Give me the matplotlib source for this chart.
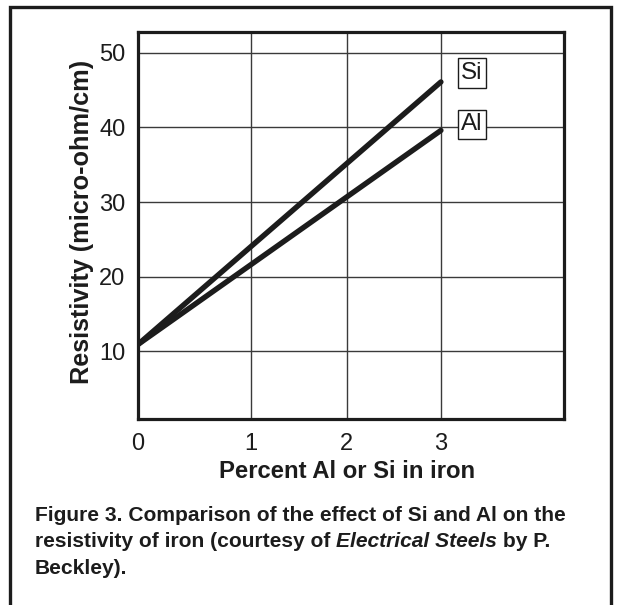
import numpy as np
import matplotlib
matplotlib.use("Agg")
import matplotlib.pyplot as plt
from matplotlib import font_manager
from matplotlib.patches import Rectangle

# --- data -------------------------------------------------------------
percent = [0, 3]                 # % Al or Si in iron
si_resistivity = [10.9, 46.1]    # micro-ohm/cm
al_resistivity = [10.9, 39.6]    # micro-ohm/cm
x_ticks = [0, 1, 2, 3]
y_ticks = [10, 20, 30, 40, 50]
series_names = ["Si", "Al"]

x_label = "Percent Al or Si in iron"
y_label = "Resistivity (micro-ohm/cm)"
caption_lines = [
    [("Figure 3. Comparison of the effect of Si and Al on the", "normal")],
    [("resistivity of iron (courtesy of ", "normal"),
     ("Electrical Steels", "italic"),
     (" by P.", "normal")],
    [("Beckley).", "normal")],
]

# --- fonts ------------------------------------------------------------
plt.rcParams["font.family"] = ["Liberation Sans", "DejaVu Sans"]
_names = {f.name for f in font_manager.fontManager.ttflist}
caption_family = ("Liberation Sans Narrow" if "Liberation Sans Narrow" in _names
                  else "Liberation Sans")
caption_size = 17 if caption_family == "Liberation Sans Narrow" else 15.1

INK = "#1c1c1c"

# --- piecewise-linear x axis (first unit drawn wider than the others) --
_kx = np.array([-10.0, 0.0, 1.0, 2.0, 3.0, 10.0])
_ku = np.array([-1130.0, 0.0, 113.0, 209.0, 303.0, 303.0 + 7 * 94.0]) / 94.0


def _fwd(x):
    return np.interp(x, _kx, _ku)


def _inv(u):
    return np.interp(u, _ku, _kx)


W, H = 618, 605
fig = plt.figure(figsize=(W / 100, H / 100), dpi=100)
fig.patch.set_facecolor("white")

ax = fig.add_axes([138 / W, 1 - 419 / H, 426 / W, 387 / H])
ax.set_xscale("function", functions=(_fwd, _inv))
ax.set_xlim(0, 4.31)
ax.set_ylim(0.9, 52.8)

ax.set_xticks(x_ticks)
ax.set_xticklabels([str(t) for t in x_ticks])
ax.set_yticks(y_ticks)
ax.set_yticklabels([str(t) for t in y_ticks])
ax.minorticks_off()
ax.tick_params(axis="both", length=0, labelsize=17, colors=INK)
ax.tick_params(axis="x", pad=10)
ax.tick_params(axis="y", pad=9)

ax.grid(True, color="#3a3a3a", linewidth=1.0)
ax.set_axisbelow(True)
for sp in ax.spines.values():
    sp.set_linewidth(2.3)
    sp.set_color(INK)

series = [si_resistivity, al_resistivity]
label_offsets = {"Si": (31, 9), "Al": (31, 6)}
for name, vals in zip(series_names, series):
    ax.plot(percent, vals, color=INK, linewidth=3.9,
            solid_capstyle="round", zorder=3)
    ax.annotate(name, xy=(percent[-1], vals[-1]),
                xytext=label_offsets[name], textcoords="offset pixels",
                ha="center", va="center", fontsize=17.5, color=INK,
                bbox=dict(boxstyle="square,pad=0.15", facecolor="white",
                          edgecolor=INK, linewidth=1.0),
                annotation_clip=False, zorder=4)

ax.set_xlabel(x_label, fontsize=17.2, fontweight="bold", color=INK,
              va="baseline")
ax.xaxis.set_label_coords((347 - 138) / 426, -(478 - 419) / 387)
ax.set_ylabel(y_label, fontsize=18.2, fontweight="bold", color=INK,
              va="baseline")
ax.yaxis.set_label_coords((89 - 138) / 426, (419 - 222) / 387)

# --- outer frame ------------------------------------------------------
fig.patches.append(Rectangle((10 / W, -0.05), (611 - 10) / W,
                             1.05 - 7 / H, transform=fig.transFigure,
                             fill=False, edgecolor=INK, linewidth=2.4))

# --- caption ----------------------------------------------------------
renderer = fig.canvas.get_renderer()
baselines = [521, 547, 574]
for runs, base in zip(caption_lines, baselines):
    x_px = 35.0
    for text, style in runs:
        t = fig.text(x_px / W, 1 - base / H, text, fontsize=caption_size,
                     fontweight="bold", fontstyle=style,
                     family=[caption_family, "DejaVu Sans"],
                     color=INK, ha="left", va="baseline")
        bb = t.get_window_extent(renderer=renderer)
        x_px += bb.width

fig.savefig("out.png", dpi=100, facecolor="white")
